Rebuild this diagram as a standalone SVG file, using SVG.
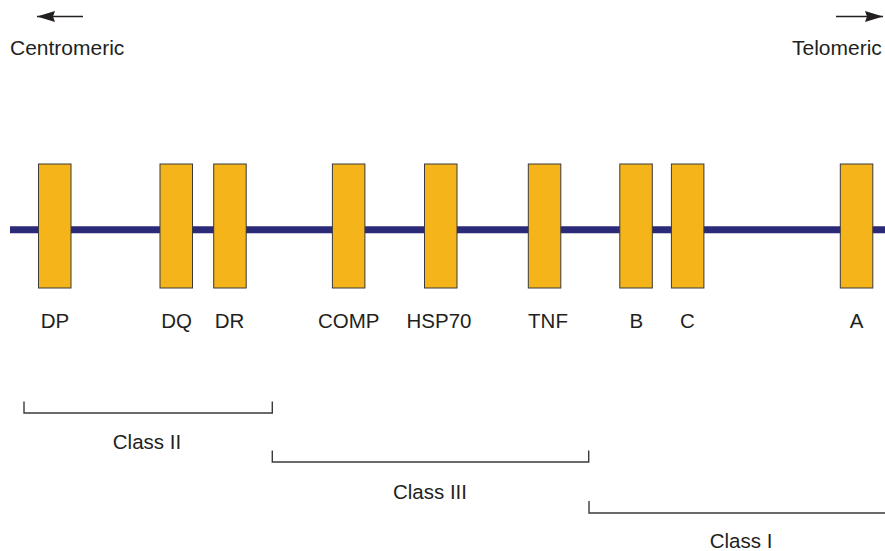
<svg xmlns="http://www.w3.org/2000/svg" width="885" height="551" viewBox="0 0 885 551">
  <style>
    .gene { fill: #f4b41a; stroke: #3a3a3a; stroke-width: 1; }
    .lbl { font-family: "Liberation Sans", Arial, sans-serif; font-size: 20.5px; fill: #231f20; text-anchor: middle; }
    .dir { font-family: "Liberation Sans", Arial, sans-serif; font-size: 21px; fill: #231f20; }
    .bracket { fill: none; stroke: #3a3a3a; stroke-width: 1.4; }
    .arrow { stroke: #231f20; stroke-width: 1.6; fill: none; }
  </style>
  <defs>
    <marker id="head" viewBox="0 0 18 11" refX="18" refY="5.5" markerWidth="18" markerHeight="11" markerUnits="userSpaceOnUse" orient="auto">
      <path d="M0,0 L18,5.5 L0,11 L2,5.5 Z" fill="#231f20"/>
    </marker>
  </defs>
  <rect width="885" height="551" fill="#ffffff"/>

  <!-- orientation arrows -->
  <g id="centromeric">
    <line class="arrow" x1="83" y1="16.5" x2="37" y2="16.5" marker-end="url(#head)"/>
    <text class="dir" x="10" y="55">Centromeric</text>
  </g>
  <g id="telomeric">
    <line class="arrow" x1="836" y1="16.5" x2="883" y2="16.5" marker-end="url(#head)"/>
    <text class="dir" x="792" y="55">Telomeric</text>
  </g>

  <!-- chromosome backbone -->
  <g id="connectors">
    <line x1="10" y1="229.7" x2="885" y2="229.7" stroke="#2b2a78" stroke-width="7"/>
  </g>

  <!-- loci -->
  <g id="DP"><rect class="gene" x="38.5" y="164" width="32.5" height="124"/><text class="lbl" x="55" y="328">DP</text></g>
  <g id="DQ"><rect class="gene" x="160" y="164" width="32.5" height="124"/><text class="lbl" x="176.5" y="328">DQ</text></g>
  <g id="DR"><rect class="gene" x="213.7" y="164" width="32.5" height="124"/><text class="lbl" x="229.5" y="328">DR</text></g>
  <g id="COMP"><rect class="gene" x="332.4" y="164" width="32.5" height="124"/><text class="lbl" x="348.7" y="328">COMP</text></g>
  <g id="HSP70"><rect class="gene" x="424.5" y="164" width="32.5" height="124"/><text class="lbl" x="439" y="328">HSP70</text></g>
  <g id="TNF"><rect class="gene" x="528.3" y="164" width="32.5" height="124"/><text class="lbl" x="548" y="328">TNF</text></g>
  <g id="B"><rect class="gene" x="619.8" y="164" width="32.5" height="124"/><text class="lbl" x="636.3" y="328">B</text></g>
  <g id="C"><rect class="gene" x="671.4" y="164" width="32.5" height="124"/><text class="lbl" x="687.5" y="328">C</text></g>
  <g id="A"><rect class="gene" x="840.3" y="164" width="32.5" height="124"/><text class="lbl" x="856.5" y="328">A</text></g>

  <!-- class regions -->
  <g id="class-II">
    <path class="bracket" d="M24,401.5 V413 H272.3 V401.5"/>
    <text class="lbl" x="147" y="449">Class II</text>
  </g>
  <g id="class-III">
    <path class="bracket" d="M272.3,450.5 V462 H588.7 V450.5"/>
    <text class="lbl" x="430" y="499">Class III</text>
  </g>
  <g id="class-I">
    <path class="bracket" d="M589,501 V513 H885"/>
    <text class="lbl" x="741" y="548">Class I</text>
  </g>
</svg>
